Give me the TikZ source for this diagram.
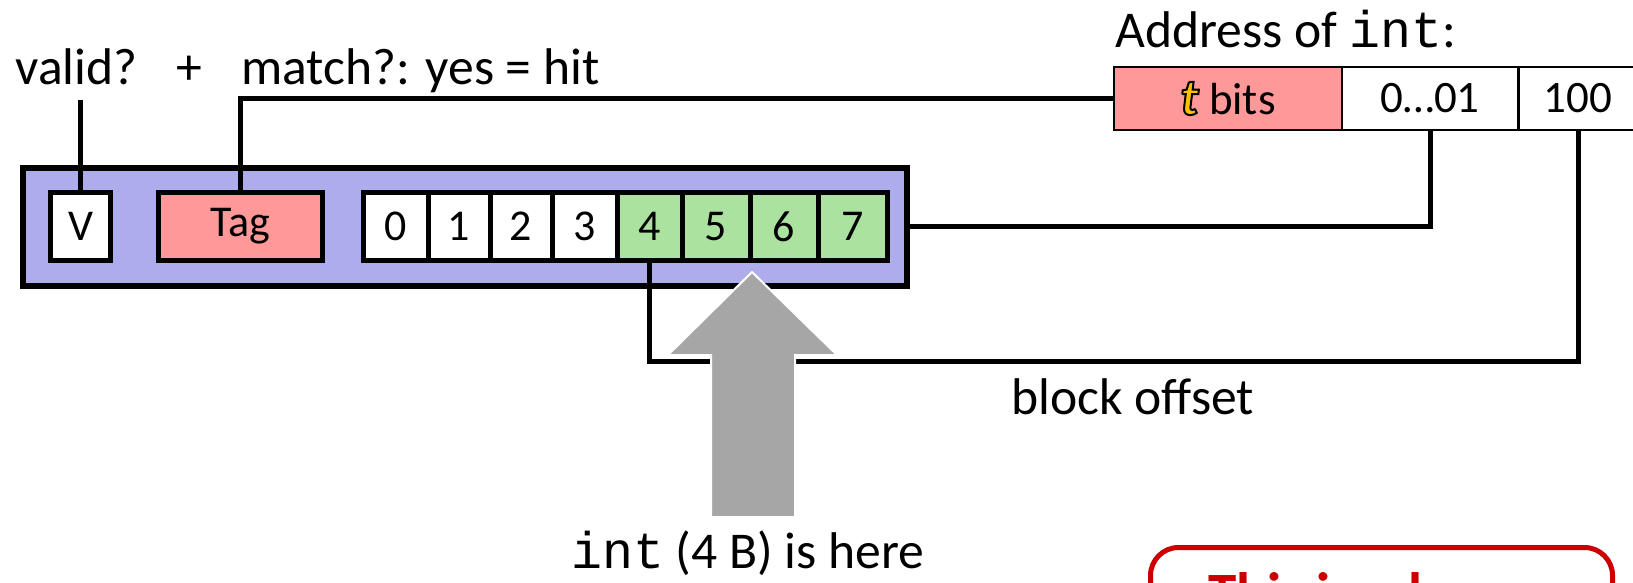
\documentclass[tikz,border=0pt]{standalone}
\usepackage{fontspec}
\setmainfont{Carlito}
\setmonofont{Liberation Mono}
\usepackage{xcolor}
\definecolor{setblue}{RGB}{174,173,235}
\definecolor{tagred}{RGB}{255,153,153}
\definecolor{bytegreen}{RGB}{171,226,160}
\definecolor{arrowgray}{RGB}{166,166,166}
\definecolor{notered}{RGB}{204,0,0}
\definecolor{tgold}{RGB}{255,192,0}
% outlined italic t
\newcommand{\tglow}{\textcolor{tgold}{\special{pdf:literal direct 2 Tr 1 w 0 0 0 RG}\textbf{\textit{\fontsize{26}{30}\selectfont t}}\special{pdf:literal direct 0 Tr}}}

\begin{document}
\begin{tikzpicture}[x=0.5pt, y=-0.5pt,
    field/.style={rectangle, draw, line width=2.5pt, fill=white, inner sep=0pt, minimum height=34pt, font=\fontsize{22}{26}\selectfont},
    addr/.style={rectangle, draw, line width=1pt, fill=white, inner sep=0pt, minimum height=31.5pt, font=\fontsize{22.5}{27}\selectfont},
    label/.style={inner sep=0pt, anchor=base west, font=\fontsize{25.8}{31}\selectfont},
    wire/.style={line width=2.5pt}
]
    \useasboundingbox (0,0) rectangle (1633,583);

    % cache set
    \node[rectangle, draw, line width=3pt, fill=setblue, minimum width=442pt, minimum height=59pt] (set) at (464.5,226.5) {};
    \node[field, minimum width=30pt] (vbox) at (80.5,226.5) {V};
    \node[field, fill=tagred, minimum width=82pt] (tag) at (240.5,226.5) {Tag};
    \foreach \i/\x/\w in {0/395.5/32.5, 1/459/31, 2/521/31, 3/584.5/32.5}
        \node[field, minimum width=\w pt] (b\i) at (\x,226.5) {\i};
    \foreach \i/\x/\w in {4/649.5/32.5, 5/716/34, 6/784/34, 7/852.5/34.5}
        \node[field, fill=bytegreen, minimum width=\w pt] (b\i) at (\x,226.5) {\i};

    % address
    \node[label] (addrlabel) at (1115,48) {Address of \texttt{int}:};
    \node[addr, fill=tagred, minimum width=114pt] (tbits) at (1228,98.5) {\tglow\ bits};
    \node[addr, minimum width=88pt] (index) at (1430,98.5) {0…01};
    \node[addr, minimum width=59pt] (offset) at (1578,98.5) {100};

    % labels
    \node[label] (valid) at (15,85) {valid?};
    \node[label] (plus) at (176,85) {+};
    \node[label] (match) at (241,85) {match?: yes = hit};
    \node[label] (blockoff) at (1011,414) {block offset};
    \node[label] (here) at (571,568) {\texttt{int} (4 B) is here};

    % wires
    \coordinate (vtop) at (80.5,100);
    \coordinate (bend) at (649.5,361);
    \draw[wire] (vbox.north) -- (vtop);
    \draw[wire] (tag.north) |- (tbits.west);
    \draw[wire] (set.east) -| (index.south);
    \draw[wire] (b4.south) -- (bend) -| (offset.south);

    % big arrow
    \draw[white, line width=1pt, fill=arrowgray] (711,517) -- (711,355) -- (668,355) -- (752,272)
        -- (837,355) -- (795,355) -- (795,517) -- cycle;

    % note box, cut off
    \node[rectangle, draw=notered, line width=2.5pt, rounded corners=14pt, anchor=north west,
        minimum width=231pt, minimum height=90pt] (note) at (1148,545) {};
    \node[inner sep=0pt, anchor=north west, text=notered, font=\bfseries\fontsize{28.5}{34}\selectfont] (notetext) at (1208,572) {This is why};
\end{tikzpicture}
\end{document}
